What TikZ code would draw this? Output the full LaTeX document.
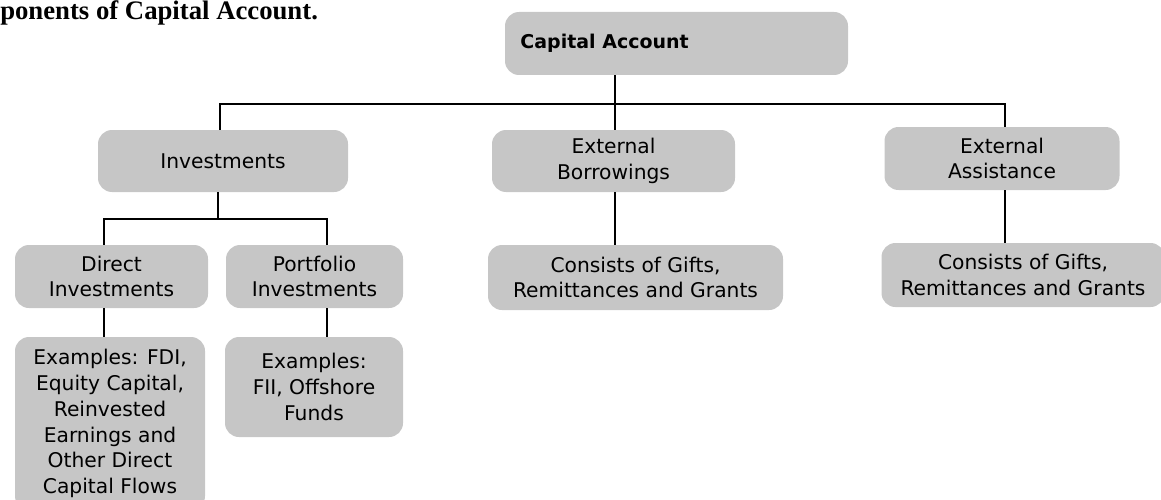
\documentclass[tikz,border=0pt]{standalone}
\usepackage{fontspec}
\setmainfont{DejaVu Sans}
\newfontfamily\headfont{Liberation Serif}
\usepackage{xcolor}
\usepackage{tikz}
\usetikzlibrary{positioning, calc}
\definecolor{boxgray}{RGB}{198, 198, 198}

\begin{document}
\begin{tikzpicture}[
    x=0.025cm, y=-0.025cm,
    box/.style={rectangle, rounded corners=0.35cm, fill=boxgray, inner sep=0pt, align=center, font=\fontsize{14.4}{18.4}\selectfont},
    boxsize/.style 2 args={minimum width=#1*0.025cm, minimum height=#2*0.025cm},
    link/.style={line width=1.3pt, black}
]
    \useasboundingbox (0,0) rectangle (1161,499);
    \clip (0,0) rectangle (1161,499);

    \node[anchor=base west, inner sep=0pt, font=\headfont\bfseries\fontsize{19}{20}\selectfont] (title) at (0,20) {ponents of Capital Account.};

    \node[box, boxsize={343}{63}, font=\bfseries\fontsize{13.5}{16}\selectfont] (cap) at (676.5,43.5) {\makebox[7.8cm][l]{Capital Account}};

    \node[box, boxsize={250}{62}] (inv) at (223,161) {Investments};
    \node[box, boxsize={243}{62}] (eb) at (613.5,161) {External\\Borrowings};
    \node[box, boxsize={235}{63}] (ea) at (1002,158.5) {External\\Assistance};

    \node[box, boxsize={193}{63}] (dir) at (111.5,276.5) {Direct\\Investments};
    \node[box, boxsize={177}{63}] (port) at (314.5,276.5) {Portfolio\\Investments};
    \node[box, boxsize={295}{65}] (cons1) at (635.5,277.5) {Consists of Gifts,\\Remittances and Grants};
    \node[box, boxsize={283}{64}] (cons2) at (1023,275) {Consists of Gifts,\\Remittances and Grants};

    \node[box, boxsize={190}{173}] (direx) at (110,423.5) {Examples: FDI,\\Equity Capital,\\Reinvested\\Earnings and\\Other Direct\\Capital Flows};
    \node[box, boxsize={178}{100}] (portex) at (314,387) {Examples:\\FII, Offshore\\Funds};

    % top level
    \coordinate (top) at (615,104);
    \draw[link] (cap.south -| top) -- (top);
    \draw[link] ([xshift=-0.075cm]inv.north) |- (top) -| ([xshift=0.075cm]ea.north);
    \draw[link] (top) -- (top |- eb.north);
    \draw[link] (eb.south -| top) -- (top |- cons1.north);
    \draw[link] ([xshift=0.075cm]ea.south) -- ([xshift=0.075cm]ea.south |- cons2.north);

    % investments
    \coordinate (split) at (218,219);
    \draw[link] (inv.south -| split) -- (split);
    \draw[link] ([xshift=-0.1875cm]dir.north) |- (split) -| ([xshift=0.3125cm]port.north);
    \draw[link] ([xshift=-0.1875cm]dir.south) -- ([xshift=-0.1875cm]dir.south |- direx.north);
    \draw[link] ([xshift=0.3125cm]port.south) -- ([xshift=0.3125cm]port.south |- portex.north);
\end{tikzpicture}
\end{document}
